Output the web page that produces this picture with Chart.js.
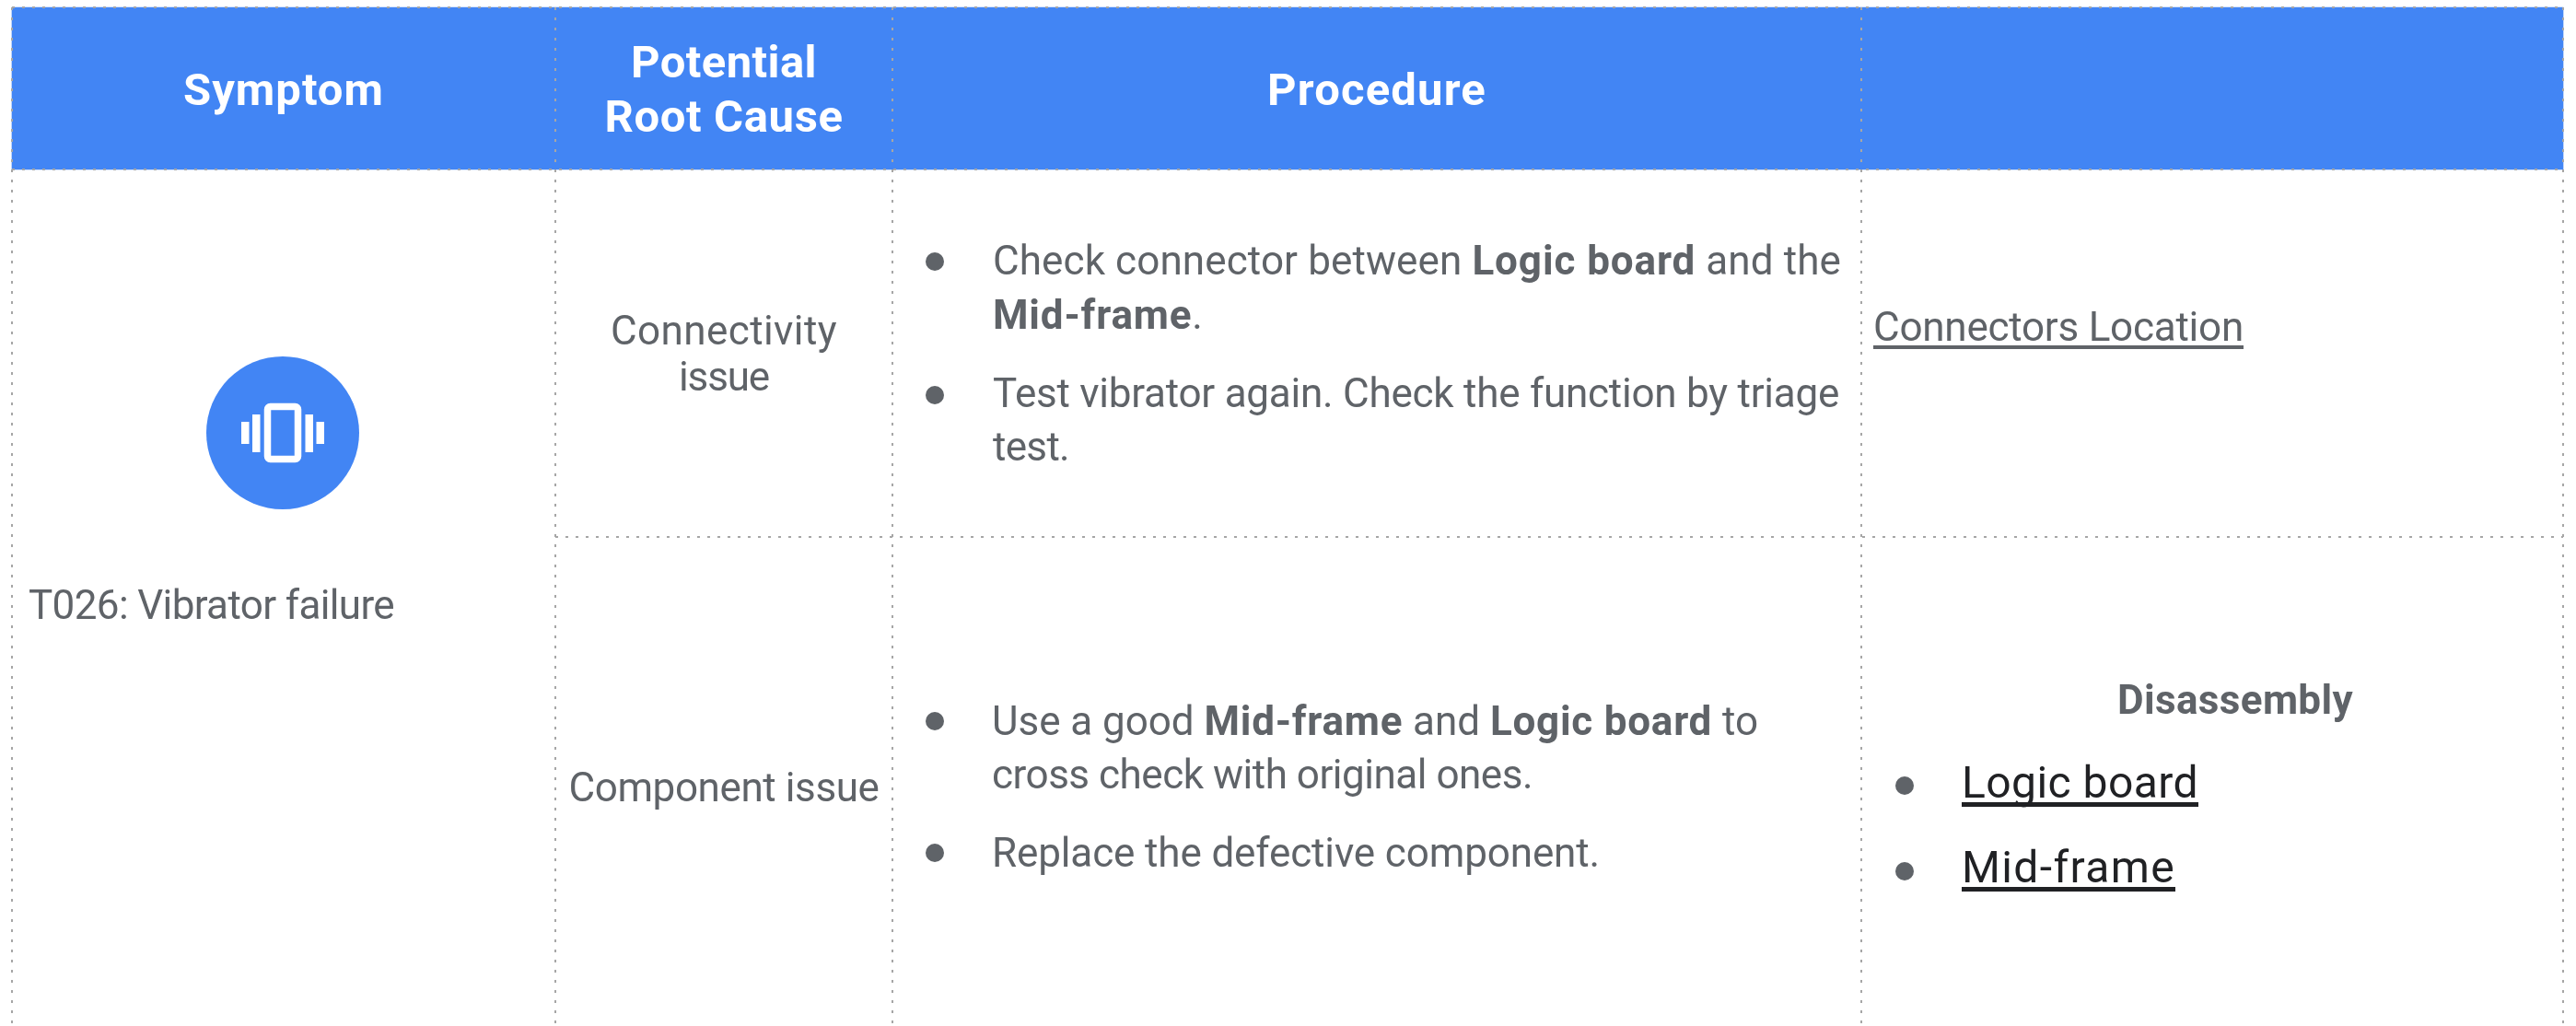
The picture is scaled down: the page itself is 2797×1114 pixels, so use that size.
<!DOCTYPE html>
<html lang="en">
<head>
<meta charset="UTF-8">
<title>T026 Vibrator failure</title>
<script src="https://cdn.jsdelivr.net/npm/chart.js"></script>
<style>
  body { margin:0; background:#fff; }
  canvas { display:block; }
</style>
</head>
<body>
<canvas id="tableChart" width="2797" height="1114"></canvas>
<script>
// table structure, in the chart's x/y units
const columnEdges = [13, 603, 969, 2021, 2783];
const rowEdges = [8, 184, 583, 1114];

// every text line: [runs, x, baseline, width, align, kind]
// a run is [text, bold]
const headerLines = [
  [[['Symptom', true]], 308, 114, 218, 'center', 'header'],
  [[['Potential', true]], 786, 84, 202, 'center', 'header'],
  [[['Root Cause', true]], 786, 143, 259, 'center', 'header'],
  [[['Procedure', true]], 1495, 114, 238, 'center', 'header'],
];
const symptomLines = [
  [[['T026: Vibrator failure', false]], 31, 672, 397, 'left', 'body'],
];
const causeLines = [
  [[['Connectivity', false]], 786, 374, 246, 'center', 'body'],
  [[['issue', false]], 786, 424, 98, 'center', 'body'],
  [[['Component issue', false]], 786, 870, 337, 'center', 'body'],
];
const procedureLines = [
  [[['Check connector between ', false], ['Logic board', true], [' and the', false]], 1078, 298, 921, 'left', 'body'],
  [[['Mid-frame', true], ['.', false]], 1078, 357, 228, 'left', 'body'],
  [[['Test vibrator again. Check the function by triage', false]], 1078, 442, 919, 'left', 'body'],
  [[['test.', false]], 1078, 500, 83, 'left', 'body'],
  [[['Use a good ', false], ['Mid-frame', true], [' and ', false], ['Logic board', true], [' to', false]], 1077, 798, 832, 'left', 'body'],
  [[['cross check with original ones.', false]], 1077, 856, 587, 'left', 'body'],
  [[['Replace the defective component.', false]], 1077, 941, 660, 'left', 'body'],
];
const linkLines = [
  [[['Disassembly', true]], 2427, 775, 256, 'center', 'body'],
  [[['Connectors Location', false]], 2034, 370, 402, 'left', 'link'],
  [[['Logic board', false]], 2130, 866, 257, 'left', 'dark'],
  [[['Mid-frame', false]], 2130, 958, 232, 'left', 'dark'],
];
const bulletsBody = [
  {x:1015, y:284}, {x:1015, y:429}, {x:1015, y:783}, {x:1015, y:926},
  {x:2068, y:853}, {x:2068, y:946},
];
const iconCenter = [{x:307, y:470}];

const BLUE = '#4285f4', GREY = '#5f6368', DARK = '#202124', DOT = '#a6a6a6';
const FONT = 'Roboto, sans-serif';
const BOLD_EXTRA = 0.8; // bold runs sit a little wider in the original

function gridLine(x1, y1, x2, y2) {
  return {
    type: 'scatter', showLine: true, pointRadius: 0, fill: false,
    borderColor: DOT, borderWidth: 2, borderDash: [3, 8],
    data: [{x:x1, y:y1}, {x:x2, y:y2}],
    order: 1,
  };
}

const gridDatasets = [];
columnEdges.forEach(x => gridDatasets.push(gridLine(x, rowEdges[0], x, rowEdges[3])));
gridDatasets.push(gridLine(columnEdges[0], rowEdges[0], columnEdges[4], rowEdges[0]));
gridDatasets.push(gridLine(columnEdges[0], rowEdges[1], columnEdges[4], rowEdges[1]));
gridDatasets.push(gridLine(columnEdges[1], rowEdges[2], columnEdges[4], rowEdges[2]));

const fontSizes = { header: 49, body: 44, link: 44, dark: 48 };
const colors = { header: '#ffffff', body: GREY, link: GREY, dark: DARK };

function drawLine(chart, line) {
  const ctx = chart.ctx;
  const [runs, x, y, width, align, kind] = line;
  const px = chart.scales.x.getPixelForValue(x);
  const py = chart.scales.y.getPixelForValue(y);
  const size = fontSizes[kind];
  const fontFor = bold => (bold ? '700 ' : '400 ') + size + 'px ' + FONT;

  // natural width first, then spread the letters to the target width
  ctx.letterSpacing = '0px';
  let natural = 0, chars = 0, boldChars = 0;
  runs.forEach(r => {
    ctx.font = fontFor(r[1]);
    natural += ctx.measureText(r[0]).width;
    chars += r[0].length;
    if (r[1]) boldChars += r[0].length;
  });
  const spacing = (width - natural - boldChars * BOLD_EXTRA) / chars;

  let cur = align === 'center' ? px - width / 2 : px;
  const start = cur;
  ctx.textAlign = 'left';
  ctx.textBaseline = 'alphabetic';
  ctx.fillStyle = colors[kind];
  runs.forEach(r => {
    ctx.font = fontFor(r[1]);
    ctx.letterSpacing = (spacing + (r[1] ? BOLD_EXTRA : 0)) + 'px';
    ctx.fillText(r[0], cur, py);
    cur += ctx.measureText(r[0]).width;
  });
  ctx.letterSpacing = '0px';

  if (kind === 'link' || kind === 'dark') {
    ctx.fillStyle = colors[kind];
    ctx.fillRect(start, py + 5, width, kind === 'dark' ? 5 : 4);
  }
}

// white vibrating phone glyph on the blue circle
function drawGlyph(chart) {
  const ctx = chart.ctx, sx = chart.scales.x, sy = chart.scales.y;
  const cx = sx.getPixelForValue(iconCenter[0].x);
  const cy = sy.getPixelForValue(iconCenter[0].y);
  ctx.fillStyle = '#fff';
  ctx.strokeStyle = '#fff';
  ctx.lineWidth = 7.5;
  ctx.beginPath();
  ctx.roundRect(cx - 16.5, cy - 28.5, 33, 57, 3);
  ctx.stroke();
  ctx.fillRect(cx - 33, cy - 20, 8.5, 41);
  ctx.fillRect(cx + 24.5, cy - 20, 8.5, 41);
  ctx.fillRect(cx - 45, cy - 12, 8.5, 24);
  ctx.fillRect(cx + 36.5, cy - 12, 8.5, 24);
}

const tableText = {
  id: 'tableText',
  afterDatasetsDraw(chart) {
    const ctx = chart.ctx;
    ctx.save();
    drawGlyph(chart);
    [headerLines, symptomLines, causeLines, procedureLines, linkLines].forEach(group => {
      group.forEach(line => drawLine(chart, line));
    });
    ctx.restore();
  }
};

new Chart(document.getElementById('tableChart'), {
  data: {
    datasets: [
      {
        type: 'bar',
        data: [{x:(columnEdges[0] + columnEdges[4]) / 2, y:[rowEdges[0], rowEdges[1]]}],
        backgroundColor: BLUE,
        barThickness: columnEdges[4] - columnEdges[0],
        order: 2,
      },
      {
        type: 'scatter', data: iconCenter, pointRadius: 83,
        pointBackgroundColor: BLUE, pointBorderWidth: 0, order: 0,
      },
      {
        type: 'scatter', data: bulletsBody, pointRadius: 10,
        pointBackgroundColor: GREY, pointBorderWidth: 0, order: 0,
      },
      ...gridDatasets,
    ]
  },
  options: {
    responsive: false,
    animation: false,
    layout: { padding: 0, autoPadding: false },
    plugins: { legend: { display: false }, tooltip: { enabled: false } },
    scales: {
      x: { type: 'linear', min: 0, max: 2797, display: false, offset: false },
      y: { type: 'linear', min: 0, max: 1114, reverse: true, display: false, offset: false },
    }
  },
  plugins: [tableText]
});
</script>
</body>
</html>
